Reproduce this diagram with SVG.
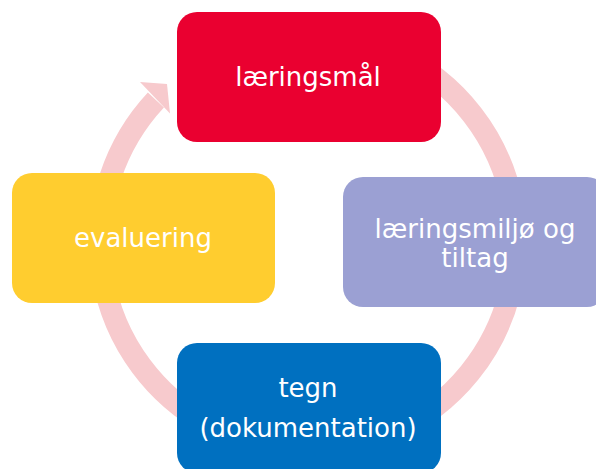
<svg xmlns="http://www.w3.org/2000/svg" width="596" height="469" viewBox="0 0 596 469">
<style>
.box{stroke:none}
.lbl{font-family:"DejaVu Sans",Verdana,sans-serif;font-size:26px;fill:#ffffff;text-anchor:middle}
.arc{fill:none;stroke:#F7CACD;stroke-width:22}
</style>
<rect width="596" height="469" fill="#ffffff"/>
<g id="connectors">
<path class="arc" d="M 308 34 A 208 208 0 1 1 155.9 100.1"/>
<polygon points="140,82 170,113.5 167,84" fill="#F7CACD"/>
</g>
<g id="node-laeringsmal">
<rect class="box" x="177" y="12" width="264" height="130" rx="20" fill="#EA0030"/>
<text class="lbl" x="308" y="86">læringsmål</text>
</g>
<g id="node-laeringsmiljo">
<rect class="box" x="343" y="177" width="264" height="130" rx="20" fill="#9BA0D3"/>
<text class="lbl" x="475" y="238">læringsmiljø og</text>
<text class="lbl" x="475" y="267">tiltag</text>
</g>
<g id="node-tegn">
<rect class="box" x="177" y="343" width="264" height="130" rx="20" fill="#0070C0"/>
<text class="lbl" x="308" y="397">tegn</text>
<text class="lbl" x="308" y="437">(dokumentation)</text>
</g>
<g id="node-evaluering">
<rect class="box" x="12" y="173" width="263" height="130" rx="20" fill="#FFCD2F"/>
<text class="lbl" x="143" y="247">evaluering</text>
</g>
</svg>
